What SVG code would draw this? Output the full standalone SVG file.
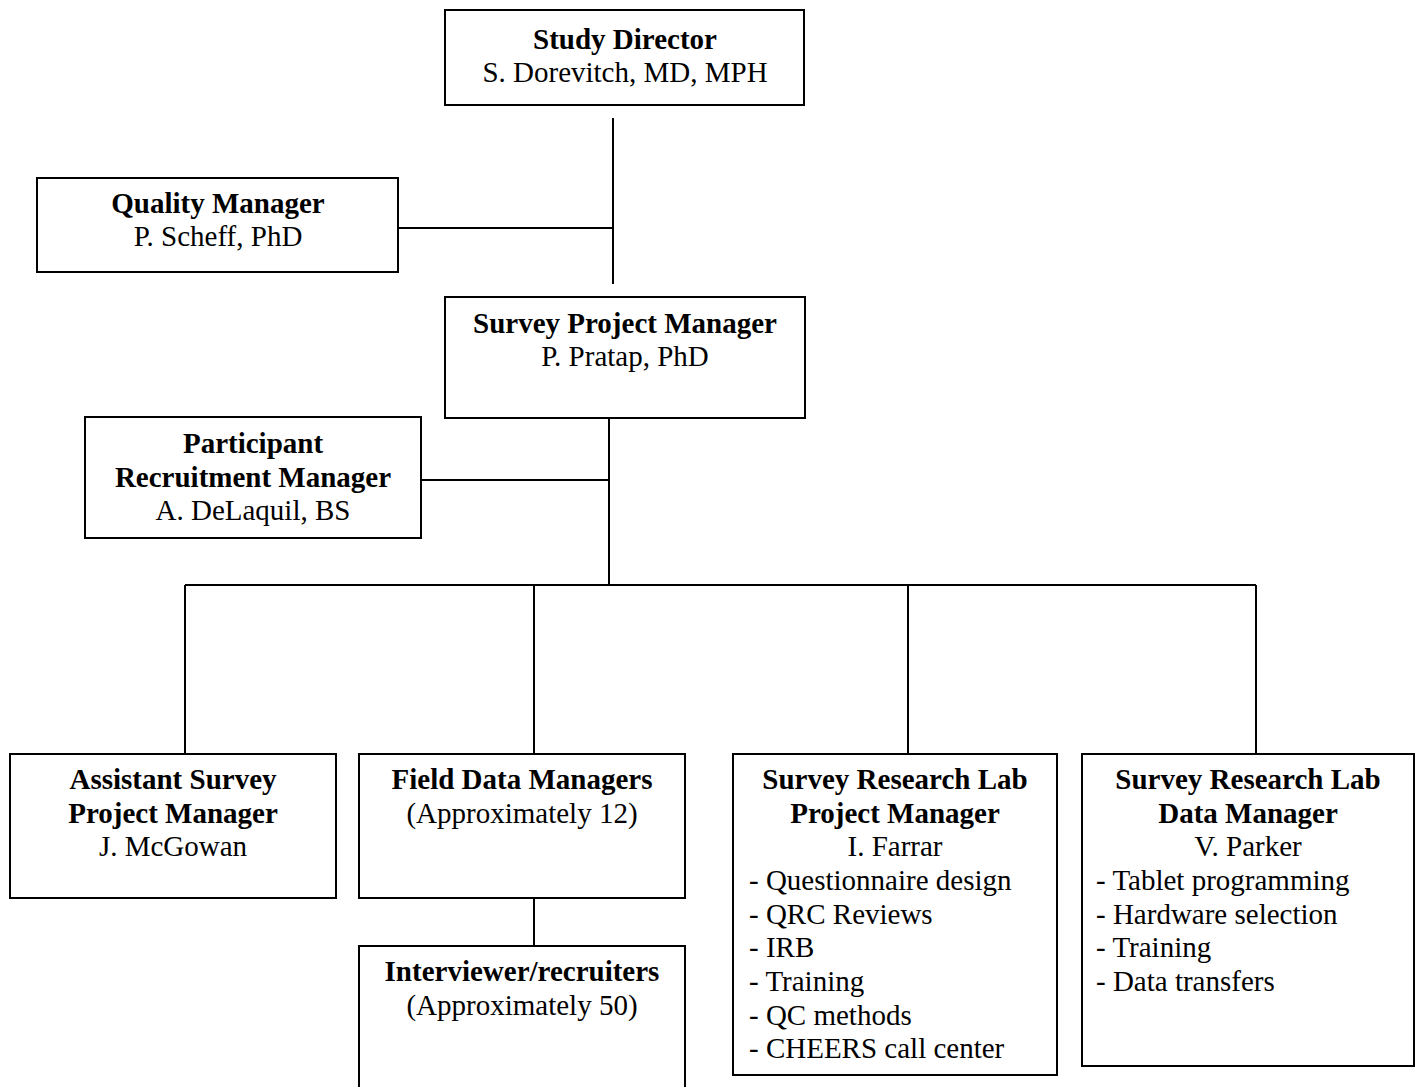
<svg xmlns="http://www.w3.org/2000/svg" width="1422" height="1087" viewBox="0 0 1422 1087">
<style>
.box{fill:#fff;stroke:#000;stroke-width:2}
.ln{stroke:#000;stroke-width:2;fill:none}
text{font-family:"Liberation Serif","Times New Roman",serif;font-size:29px;fill:#000}
.c{text-anchor:middle}
.b{font-weight:bold}
</style>
<rect width="1422" height="1087" fill="#fff"/>
<g id="connectors">
<line class="ln" x1="613" y1="118" x2="613" y2="284"/>
<line class="ln" x1="399" y1="228" x2="613" y2="228"/>
<line class="ln" x1="609" y1="418" x2="609" y2="585"/>
<line class="ln" x1="421" y1="480" x2="609" y2="480"/>
<line class="ln" x1="185" y1="585" x2="1256" y2="585"/>
<line class="ln" x1="185" y1="585" x2="185" y2="754"/>
<line class="ln" x1="534" y1="585" x2="534" y2="754"/>
<line class="ln" x1="908" y1="585" x2="908" y2="754"/>
<line class="ln" x1="1256" y1="585" x2="1256" y2="754"/>
<line class="ln" x1="534" y1="898" x2="534" y2="946"/>
</g>
<g id="study-director">
<rect class="box" x="445" y="10" width="359" height="95"/>
<text class="c b" x="625" y="49">Study Director</text>
<text class="c" x="625" y="82">S. Dorevitch, MD, MPH</text>
</g>
<g id="quality-manager">
<rect class="box" x="37" y="178" width="361" height="94"/>
<text class="c b" x="218" y="213">Quality Manager</text>
<text class="c" x="218" y="246">P. Scheff, PhD</text>
</g>
<g id="survey-project-manager">
<rect class="box" x="445" y="297" width="360" height="121"/>
<text class="c b" x="625" y="333">Survey Project Manager</text>
<text class="c" x="625" y="366">P. Pratap, PhD</text>
</g>
<g id="participant-recruitment-manager">
<rect class="box" x="85" y="417" width="336" height="121"/>
<text class="c b" x="253" y="453">Participant</text>
<text class="c b" x="253" y="487">Recruitment Manager</text>
<text class="c" x="253" y="520">A. DeLaquil, BS</text>
</g>
<g id="assistant-survey-project-manager">
<rect class="box" x="10" y="754" width="326" height="144"/>
<text class="c b" x="173" y="789">Assistant Survey</text>
<text class="c b" x="173" y="823">Project Manager</text>
<text class="c" x="173" y="856">J. McGowan</text>
</g>
<g id="field-data-managers">
<rect class="box" x="359" y="754" width="326" height="144"/>
<text class="c b" x="522" y="789">Field Data Managers</text>
<text class="c" x="522" y="823">(Approximately 12)</text>
</g>
<g id="interviewer-recruiters">
<rect class="box" x="359" y="946" width="326" height="150"/>
<text class="c b" x="522" y="981">Interviewer/recruiters</text>
<text class="c" x="522" y="1015">(Approximately 50)</text>
</g>
<g id="srl-project-manager">
<rect class="box" x="733" y="754" width="324" height="321"/>
<text class="c b" x="895" y="789">Survey Research Lab</text>
<text class="c b" x="895" y="823">Project Manager</text>
<text class="c" x="895" y="856">I. Farrar</text>
<text x="749" y="890">- Questionnaire design</text>
<text x="749" y="924">- QRC Reviews</text>
<text x="749" y="957">- IRB</text>
<text x="749" y="991">- Training</text>
<text x="749" y="1025">- QC methods</text>
<text x="749" y="1058">- CHEERS call center</text>
</g>
<g id="srl-data-manager">
<rect class="box" x="1082" y="754" width="332" height="312"/>
<text class="c b" x="1248" y="789">Survey Research Lab</text>
<text class="c b" x="1248" y="823">Data Manager</text>
<text class="c" x="1248" y="856">V. Parker</text>
<text x="1096" y="890">- Tablet programming</text>
<text x="1096" y="924">- Hardware selection</text>
<text x="1096" y="957">- Training</text>
<text x="1096" y="991">- Data transfers</text>
</g>
</svg>
